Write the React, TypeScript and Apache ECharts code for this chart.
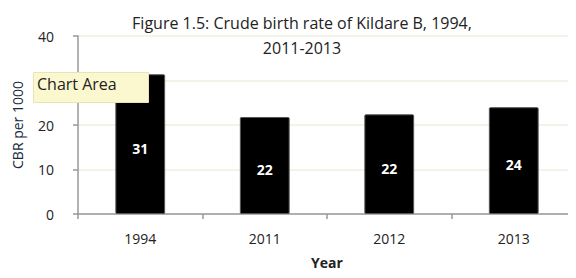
import React, { useEffect, useRef } from "react";
import * as echarts from "echarts";

const categories = ["1994", "2011", "2012", "2013"];
const cbrValues = [31.4, 21.8, 22.4, 24.0];
const yTicks = [0, 10, 20, 30, 40];

export default function App() {
  const ref = useRef<HTMLDivElement>(null);
  useEffect(() => {
    if (!ref.current) return;
    const chart = echarts.init(ref.current, null, { renderer: "svg" });
    const font = "'Open Sans', 'Liberation Sans', Arial, sans-serif";
    chart.setOption({
      animation: false,
      backgroundColor: "#ffffff",
      title: {
        text: "Figure 1.5: Crude birth rate of Kildare B, 1994,\n2011-2013",
        left: 297,
        textAlign: "center",
        top: 5,
        textStyle: {
          fontFamily: font,
          fontSize: 16,
          fontWeight: "normal",
          color: "#222222",
          lineHeight: 25,
        },
      },
      grid: { left: 78, right: -2, top: 36, bottom: 64 },
      xAxis: {
        type: "category",
        data: categories,
        name: "Year",
        nameLocation: "middle",
        nameGap: 40,
        nameTextStyle: { fontFamily: font, fontSize: 14, fontWeight: "bold", color: "#222", lineHeight: 16 },
        axisLine: { lineStyle: { color: "#999999", width: 1.5 } },
        axisTick: { show: true, length: 5, lineStyle: { color: "#999999", width: 1.5 } },
        axisLabel: { fontFamily: font, fontSize: 14, color: "#222", margin: 17 },
      },
      yAxis: {
        type: "value",
        min: yTicks[0],
        max: yTicks[yTicks.length - 1],
        interval: 10,
        name: "CBR per 1000",
        nameLocation: "middle",
        nameGap: 54,
        nameRotate: 90,
        nameTextStyle: { fontFamily: font, fontSize: 14, color: "#1a2a40" },
        axisLine: { show: true, lineStyle: { color: "#999999", width: 1.5 } },
        axisTick: { show: true, length: 5, lineStyle: { color: "#999999", width: 1.5 } },
        axisLabel: { fontFamily: font, fontSize: 14, color: "#222", margin: 24 },
        splitLine: { show: true, lineStyle: { color: "#efefe0", width: 1.5 } },
      },
      series: [
        {
          type: "bar",
          data: cbrValues,
          barWidth: "40%",
          itemStyle: { color: "#000000", borderColor: "#555555", borderWidth: 1, borderRadius: 1 },
          label: {
            show: true,
            position: "inside",
            offset: [0, 4],
            formatter: (p: any) => String(Math.round(p.value)),
            color: "#ffffff",
            fontFamily: font,
            fontWeight: "bold",
            fontSize: 14,
          },
        },
      ],
      graphic: [
        {
          type: "rect",
          left: 33,
          top: 72,
          shape: { width: 115, height: 30 },
          style: { fill: "#fbf8d0", stroke: "#e8e4b8", lineWidth: 1 },
          z: 100,
        },
        {
          type: "text",
          left: 37,
          top: 76,
          style: { text: "Chart Area", fontFamily: font, fontSize: 16, fill: "#222222" },
          z: 101,
        },
      ],
    });
    return () => chart.dispose();
  }, []);
  return <div ref={ref} style={{ width: 576, height: 278, margin: -8 }} />;
}
